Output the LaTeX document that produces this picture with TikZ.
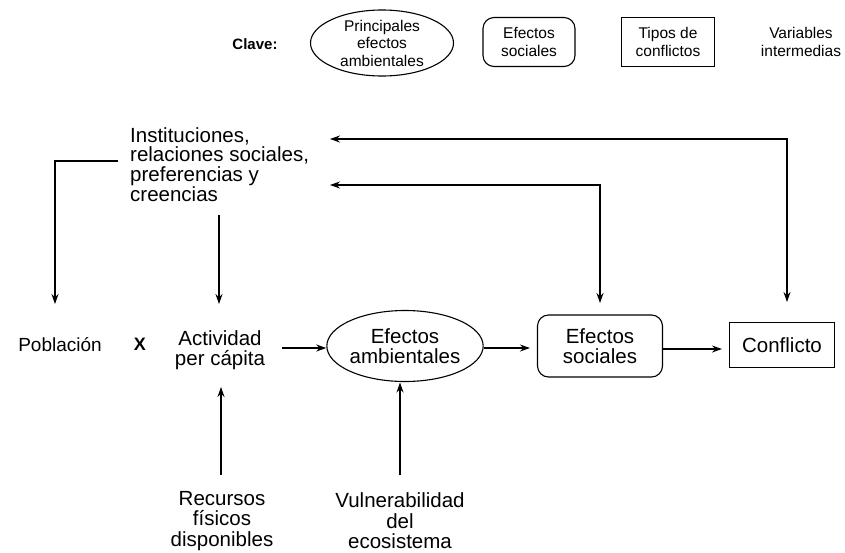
\documentclass[tikz,border=0pt]{standalone}
\usepackage{fontspec}
\setmainfont{Liberation Sans}
\usetikzlibrary{shapes.geometric,arrows.meta}
\begin{document}
\begin{tikzpicture}[x=1pt,y=-1pt,
  txt/.style={font=\fontsize{20.5}{20.5}\selectfont, align=center, inner sep=0pt},
  leg/.style={font=\fontsize{15.5}{17.5}\selectfont, align=center, inner sep=0pt},
  ell/.style={draw, ellipse, line width=1.1pt},
  rbox/.style={draw, rounded corners=11pt, line width=1.1pt},
  sbox/.style={draw, line width=1.1pt},
  arr/.style={-{Stealth[length=10pt,width=7pt]}, line width=1.1pt},
  arrb/.style={{Stealth[length=10pt,width=7pt]}-{Stealth[length=10pt,width=7pt]}, line width=1.1pt},
  ln/.style={line width=1.1pt}]
\useasboundingbox (0,0) rectangle (845,552);
% legend
\node[leg, font=\bfseries\fontsize{15}{17}\selectfont] (clave) at (255,44) {Clave:};
\node[leg, ell, minimum width=143, minimum height=66] (kell) at (382,43) {Principales\\efectos\\ambientales};
\node[leg, rbox, minimum width=92, minimum height=49] (kbox) at (529,42) {Efectos\\sociales};
\node[leg, sbox, minimum width=93, minimum height=49] (krect) at (668,42) {Tipos de\\conflictos};
\node[leg] (kvar) at (801,42) {Variables\\intermedias};
% institutions
\node[txt, font=\fontsize{20.5}{19.7}\selectfont, align=left, anchor=west] (inst) at (130,164.5) {Instituciones,\\relaciones sociales,\\preferencias y\\creencias};
% main row
\node[txt, font=\fontsize{19}{20}\selectfont] (pob) at (60,345) {Población};
\node[txt, font=\bfseries\fontsize{18}{20}\selectfont] (x) at (140,344) {X};
\node[txt] (act) at (220,350) {Actividad\\per cápita};
\node[txt, ell, minimum width=156, minimum height=71] (ea) at (405,346) {Efectos\\ambientales};
\node[txt, rbox, minimum width=125, minimum height=62] (es) at (600,346) {Efectos\\sociales};
\node[txt, sbox, minimum width=105, minimum height=45] (con) at (782,345) {Conflicto};
% bottom
\node[txt] (rec) at (222,521) {Recursos\\físicos\\disponibles};
\node[txt] (vul) at (400,521) {Vulnerabilidad\\del\\ecosistema};
% helper coordinates
\coordinate (t1) at (330,139);
\coordinate (t2) at (330,185);
\coordinate (lw) at (118,161);
\coordinate (pobtop) at (55,304);
\coordinate (instb) at (219,215);
\coordinate (acttop) at (219,304);
\coordinate (estop) at (600,303);
\coordinate (contop) at (787,302);
\coordinate (recup) at (221,475);
\coordinate (vulup) at (400,475);
\coordinate (eabot) at (400,382.5);
% connectors
\draw[arr] (lw) -| (pobtop);
\draw[arr] (instb) -- (acttop);
\draw[arr] ([xshift=17pt]act.east |- 0,348) -- (ea.west |- 0,348);
\draw[arr] (ea.east |- 0,348) -- ([xshift=-7pt]es.west |- 0,348);
\draw[arr] (es.east |- 0,349) -- ([xshift=-7pt]con.west |- 0,349);
\draw[arrb] (t1) -| (contop);
\draw[arrb] (t2) -| (estop);
\draw[arr] (recup) -- (221,387);
\draw[arr] (vulup) -- (eabot);
\end{tikzpicture}
\end{document}
